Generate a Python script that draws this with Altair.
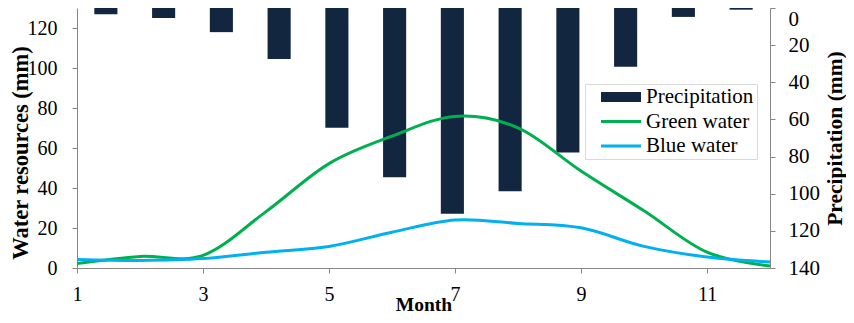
import altair as alt
import pandas as pd

# ---- data ----
months = [1, 2, 3, 4, 5, 6, 7, 8, 9, 10, 11, 12]
precipitation = [3.4, 5.4, 13.0, 27.4, 64.5, 91.2, 110.8, 98.7, 77.8, 31.7, 4.8, 0.9]
green_water = [2.2, 5.8, 6.3, 28.2, 52.2, 65.9, 75.8, 70.1, 48.5, 28.6, 7.9, 1.0]
blue_water = [4.3, 3.8, 4.7, 7.9, 10.8, 17.9, 24.0, 22.3, 20.1, 10.8, 5.5, 3.0]

series_names = ["Precipitation", "Green water", "Blue water"]
series_colors = ["#12263f", "#00b050", "#00b0f0"]
series_widths = [10, 3, 3]

x_ticks = [1, 3, 5, 7, 9, 11]
left_ticks = [0, 20, 40, 60, 80, 100, 120]
right_ticks = [0, 20, 40, 60, 80, 100, 120, 140]

FONT = "Liberation Serif"
AXIS_GREY = "#868686"

bar_df = pd.DataFrame({"month": months, "precip": precipitation})
line_df = pd.concat([
    pd.DataFrame({"month": months, "value": green_water, "series": "Green water"}),
    pd.DataFrame({"month": months, "value": blue_water, "series": "Blue water"}),
])

legend = alt.Legend(
    title=None, orient="none", legendX=508, legendY=76, direction="vertical",
    symbolType="stroke", symbolSize=1600, clipHeight=20, rowPadding=3.5,
    padding=3, symbolOffset=8, labelOffset=0, labelLimit=200,
    labelFont=FONT, labelFontSize=21, labelColor="#000000",
    labelExpr="datum.label + '\u2003\u2003'",
    fillColor="#ffffff", strokeColor="#d9d9d9",
)

bars = alt.Chart(bar_df).mark_bar(color=series_colors[0]).encode(
    x=alt.X("month:O", axis=None,
            scale=alt.Scale(paddingInner=0.6, paddingOuter=0.3)),
    y=alt.Y("precip:Q",
            scale=alt.Scale(domain=[0, 140], reverse=True, nice=False),
            axis=alt.Axis(orient="right", values=right_ticks,
                          title="Precipitation  (mm)",
                          labelPadding=13, labelFontSize=21,
                          labelOffset={"condition": {"test": "datum.value === 0", "value": 11},
                                       "value": 0},
                          titleFontSize=21.5, titleAngle=270,
                          titleX=65, titleY=130,
                          titleAlign="center", titleBaseline="middle")),
)

lines = alt.Chart(line_df).mark_line(interpolate="cardinal").encode(
    x=alt.X("month:Q",
            scale=alt.Scale(domain=[1, 12], nice=False, zero=False),
            axis=alt.Axis(values=x_ticks, title="Month", labelFlush=False,
                          labelPadding=11, titleFontSize=19.5,
                          titleX=346.5, titleY=42,
                          titleAlign="center", titleBaseline="alphabetic")),
    y=alt.Y("value:Q",
            scale=alt.Scale(domain=[0, 130], nice=False),
            axis=alt.Axis(orient="left", values=left_ticks,
                          title="Water resources (mm)",
                          labelPadding=15, labelFontSize=20,
                          titleFontSize=22.5, titleAngle=270,
                          titleX=-57, titleY=144.5,
                          titleAlign="center", titleBaseline="middle")),
    color=alt.Color("series:N",
                    scale=alt.Scale(domain=series_names, range=series_colors),
                    legend=legend),
    strokeWidth=alt.StrokeWidth("series:N",
                                scale=alt.Scale(type="ordinal", domain=series_names,
                                                range=series_widths),
                                legend=legend),
)

chart = alt.layer(bars, lines).resolve_scale(
    x="independent", y="independent"
).properties(
    width=693, height=260,
    autosize=alt.AutoSizeParams(type="none"),
    padding={"left": 69, "top": 0, "right": 76, "bottom": 47},
).configure_view(stroke=None).configure_axis(
    grid=False,
    domainColor=AXIS_GREY, tickColor=AXIS_GREY, tickSize=5,
    labelFont=FONT, labelColor="#000000", labelFontSize=20,
    titleFont=FONT, titleFontWeight="bold", titleColor="#000000",
)

chart.save("out.html", embed_options={"renderer": "svg", "actions": False})
